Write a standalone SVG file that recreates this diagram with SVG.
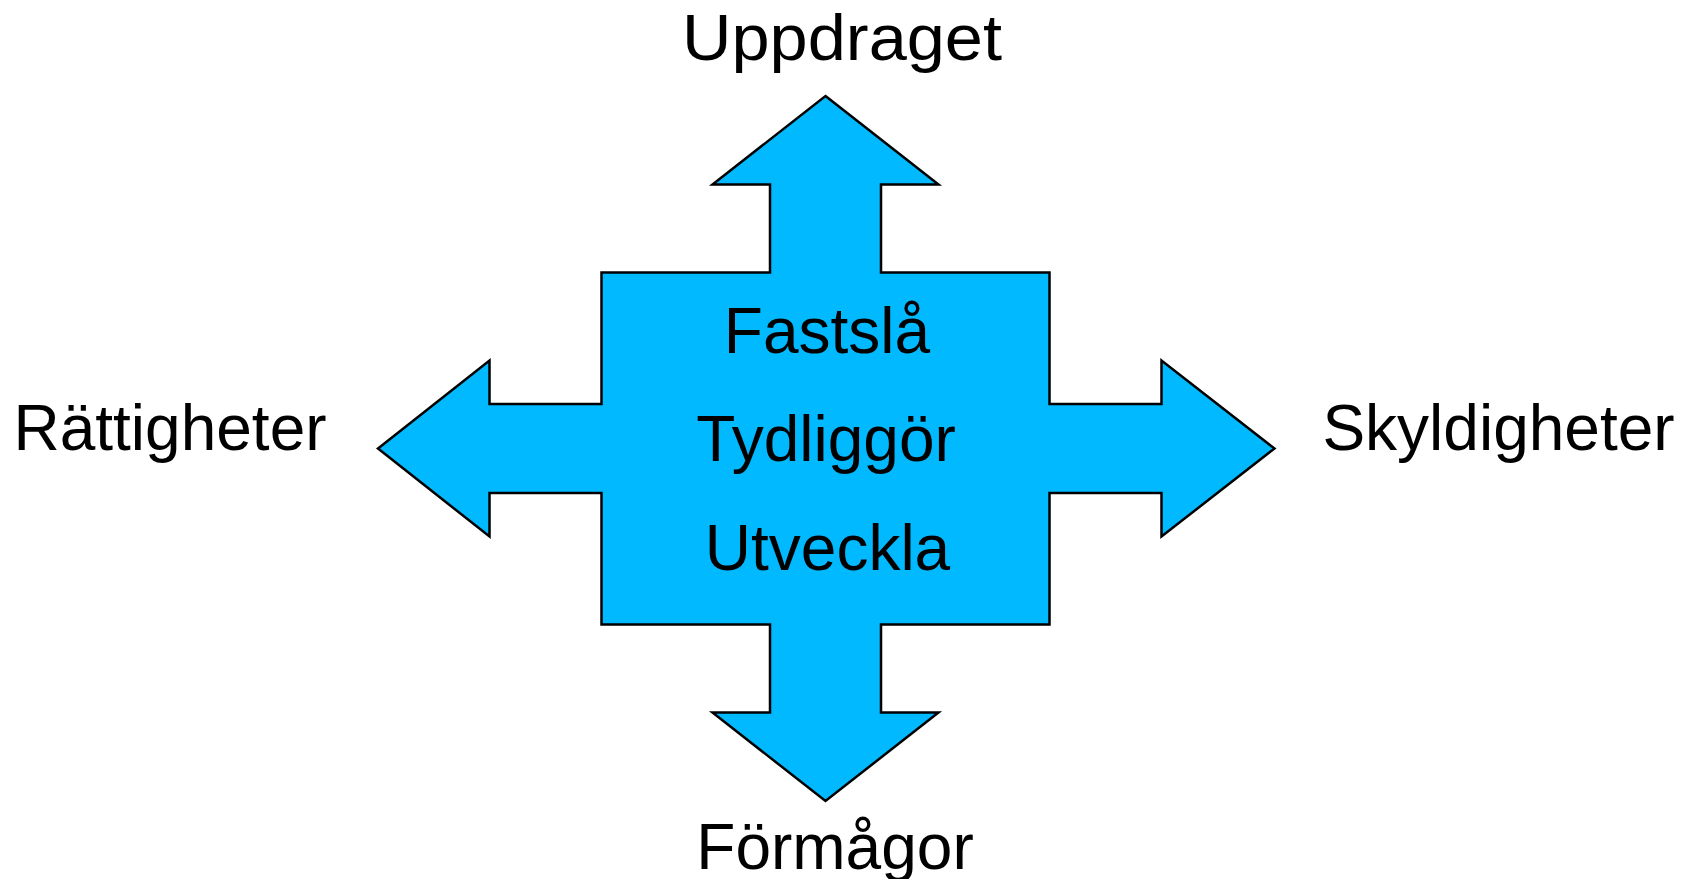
<svg xmlns="http://www.w3.org/2000/svg" width="1692" height="879" viewBox="0 0 1692 879">
  <style>
    .cross { fill: #00B9FF; stroke: #000; stroke-width: 2.5; stroke-linejoin: miter; }
    .label { font-family: "Liberation Sans", Arial, sans-serif; font-size: 64px; fill: #000; text-anchor: middle; }
  </style>
  <rect width="1692" height="879" fill="#fff"/>
  <!-- four-way arrow with square centre -->
  <g id="cross">
    <polygon class="cross" points="825.5,96 938.5,184.5 881,184.5 881,272.5 1049.5,272.5 1049.5,404 1161.5,404 1161.5,360.5 1274.5,448.5 1161.5,536.5 1161.5,493 1049.5,493 1049.5,624.5 881,624.5 881,712.5 938.5,712.5 825.5,801 712.5,712.5 770,712.5 770,624.5 601.5,624.5 601.5,493 489.5,493 489.5,536.5 378,448.5 489.5,360.5 489.5,404 601.5,404 601.5,272.5 770,272.5 770,184.5 712.5,184.5"/>
    <text class="label" x="827" y="353">Fastslå</text>
    <text class="label" x="826" y="461">Tydliggör</text>
    <text class="label" x="827.5" y="569.5">Utveckla</text>
  </g>
  <g id="top"><text class="label" x="842" y="60" textLength="320" lengthAdjust="spacingAndGlyphs">Uppdraget</text></g>
  <g id="left"><text class="label" x="170" y="450">Rättigheter</text></g>
  <g id="right"><text class="label" x="1498.5" y="450">Skyldigheter</text></g>
  <g id="bottom"><text class="label" x="835" y="869">Förmågor</text></g>
  <g id="connectors"></g>
</svg>
